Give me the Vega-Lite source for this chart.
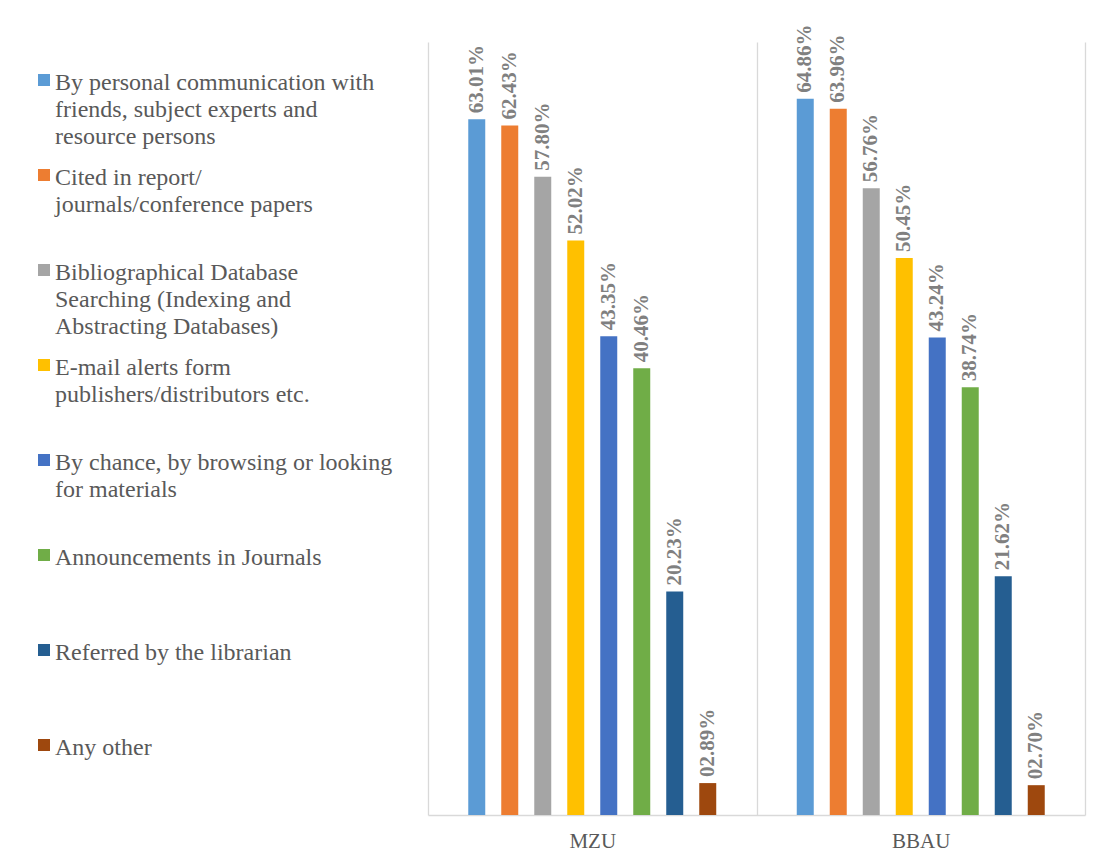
{
  "$schema": "https://vega.github.io/schema/vega-lite/v6.json",
  "width": 657,
  "height": 773,
  "autosize": {"type": "none"},
  "padding": {"left": 428, "top": 42, "right": 15, "bottom": 43},
  "background": "white",
  "config": {"view": {"stroke": null}},
  "data": {
    "values": [
      {"university": "MZU", "source": "By personal communication with\nfriends, subject experts and\nresource persons", "pct": 0.6301},
      {"university": "MZU", "source": "Cited in report/\njournals/conference papers", "pct": 0.6243},
      {"university": "MZU", "source": "Bibliographical Database\nSearching (Indexing and\nAbstracting Databases)", "pct": 0.5780},
      {"university": "MZU", "source": "E-mail alerts form\npublishers/distributors etc.", "pct": 0.5202},
      {"university": "MZU", "source": "By chance, by browsing or looking\nfor materials", "pct": 0.4335},
      {"university": "MZU", "source": "Announcements in Journals", "pct": 0.4046},
      {"university": "MZU", "source": "Referred by the librarian", "pct": 0.2023},
      {"university": "MZU", "source": "Any other", "pct": 0.0289},
      {"university": "BBAU", "source": "By personal communication with\nfriends, subject experts and\nresource persons", "pct": 0.6486},
      {"university": "BBAU", "source": "Cited in report/\njournals/conference papers", "pct": 0.6396},
      {"university": "BBAU", "source": "Bibliographical Database\nSearching (Indexing and\nAbstracting Databases)", "pct": 0.5676},
      {"university": "BBAU", "source": "E-mail alerts form\npublishers/distributors etc.", "pct": 0.5045},
      {"university": "BBAU", "source": "By chance, by browsing or looking\nfor materials", "pct": 0.4324},
      {"university": "BBAU", "source": "Announcements in Journals", "pct": 0.3874},
      {"university": "BBAU", "source": "Referred by the librarian", "pct": 0.2162},
      {"university": "BBAU", "source": "Any other", "pct": 0.0270}
    ]
  },
  "encoding": {
    "x": {
      "field": "university",
      "type": "nominal",
      "sort": null,
      "scale": {"paddingInner": 0, "paddingOuter": 0},
      "axis": {
        "title": null,
        "labelAngle": 0,
        "grid": true,
        "tickBand": "extent",
        "gridColor": "#d9d9d9",
        "gridWidth": 1.3,
        "domainColor": "#d9d9d9",
        "domainWidth": 1.3,
        "ticks": false,
        "labelFont": "Liberation Serif",
        "labelFontSize": 21,
        "labelColor": "#595959",
        "labelPadding": 15
      }
    },
    "xOffset": {
      "field": "source",
      "type": "nominal",
      "scale": {
        "domain": [
          "",
          "By personal communication with\nfriends, subject experts and\nresource persons",
          "Cited in report/\njournals/conference papers",
          "Bibliographical Database\nSearching (Indexing and\nAbstracting Databases)",
          "E-mail alerts form\npublishers/distributors etc.",
          "By chance, by browsing or looking\nfor materials",
          "Announcements in Journals",
          "Referred by the librarian",
          "Any other",
          " "
        ],
        "paddingInner": 0.485,
        "paddingOuter": 0.22
      }
    },
    "y": {
      "field": "pct",
      "type": "quantitative",
      "scale": {"domain": [0, 0.7]},
      "axis": null
    }
  },
  "layer": [
    {
      "mark": {"type": "bar"},
      "encoding": {
        "color": {
          "field": "source",
          "type": "nominal",
          "sort": null,
          "scale": {
            "range": ["#5B9BD5", "#ED7D31", "#A5A5A5", "#FFC000", "#4472C4", "#70AD47", "#255E91", "#9E480E"]
          },
          "legend": {
            "title": null,
            "orient": "none",
            "direction": "vertical",
            "legendX": -396,
            "legendY": 29,
            "padding": 0,
            "clipHeight": 95,
            "rowPadding": 0,
            "symbolType": "square",
            "symbolSize": 144,
            "symbolStrokeWidth": 0,
            "symbolOffset": 0,
            "labelOffset": -1,
            "labelFont": "Liberation Serif",
            "labelFontSize": 24,
            "labelColor": "#595959",
            "labelLimit": 420,
            "labelBaseline": "top",
            "labelExpr": "split(datum.label, '\\n')",
            "encode": {
              "labels": {"update": {"y": {"value": 0}, "lineHeight": {"value": 27}}},
              "symbols": {"update": {"y": {"value": 9}}}
            }
          }
        }
      }
    },
    {
      "mark": {
        "type": "text",
        "angle": 270,
        "align": "left",
        "baseline": "middle",
        "dx": 6,
        "font": "Liberation Serif",
        "fontWeight": "bold",
        "fontSize": 21,
        "fill": "#808080"
      },
      "encoding": {
        "text": {"field": "pct", "type": "quantitative", "format": "06.2%"}
      }
    }
  ]
}
